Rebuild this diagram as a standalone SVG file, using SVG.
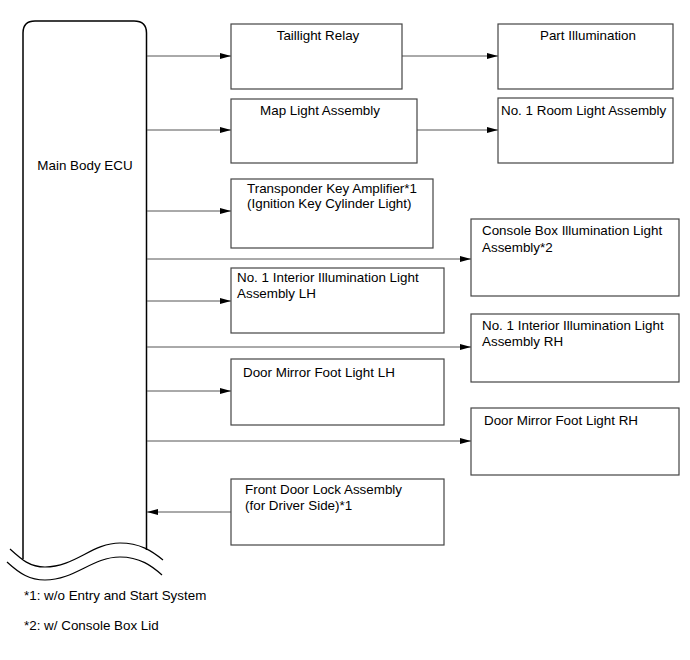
<svg xmlns="http://www.w3.org/2000/svg" width="690" height="660" viewBox="0 0 690 660">
<defs>
<marker id="arr" markerWidth="11" markerHeight="7" refX="11" refY="3.5" orient="auto" markerUnits="userSpaceOnUse">
<path d="M0,0.5 L11,3.5 L0,6.5 z" fill="#000"/>
</marker>
</defs>
<style>
.box{fill:#fff;stroke:#444;stroke-width:1.2}
.ecu{fill:#fff;stroke:#000;stroke-width:1.5}
.ln{stroke:#555;stroke-width:1;fill:none}
text{font-family:"Liberation Sans",Arial,sans-serif;font-size:13.4px;fill:#000}
.wave{fill:none;stroke:#000;stroke-width:1.2}
</style>
<rect width="690" height="660" fill="#fff"/>
<g id="ecu">
<path class="ecu" d="M23,559 L23,33 Q23,21 35,21 L134,21 Q146.5,21 146.5,33 L146.5,550" fill="none"/>
<path class="wave" d="M10,549 C22,560 30,567 45,567 C75,567 92,543 120,543 C140,543 152,551 163,560"/>
<path class="wave" d="M7,562 C20,574 30,580 45,580 C75,580 92,557 120,557 C140,557 152,566 162,575"/>
<text x="85" y="170" text-anchor="middle">Main Body ECU</text>
</g>
<g id="connectors">
<line class="ln" x1="147" y1="56" x2="231" y2="56" marker-end="url(#arr)"/>
<line class="ln" x1="402" y1="56" x2="498" y2="56" marker-end="url(#arr)"/>
<line class="ln" x1="147" y1="130" x2="231" y2="130" marker-end="url(#arr)"/>
<line class="ln" x1="417" y1="130" x2="498" y2="130" marker-end="url(#arr)"/>
<line class="ln" x1="147" y1="211" x2="231" y2="211" marker-end="url(#arr)"/>
<line class="ln" x1="147" y1="259" x2="471" y2="259" marker-end="url(#arr)"/>
<line class="ln" x1="147" y1="301" x2="231" y2="301" marker-end="url(#arr)"/>
<line class="ln" x1="147" y1="347" x2="471" y2="347" marker-end="url(#arr)"/>
<line class="ln" x1="147" y1="391" x2="231" y2="391" marker-end="url(#arr)"/>
<line class="ln" x1="147" y1="441" x2="471" y2="441" marker-end="url(#arr)"/>
<line class="ln" x1="231" y1="512" x2="147" y2="512" marker-end="url(#arr)"/>
</g>
<g id="taillight-relay">
<rect class="box" x="231" y="24" width="171" height="65"/>
<text x="318" y="40" text-anchor="middle">Taillight Relay</text>
</g>
<g id="part-illumination">
<rect class="box" x="498" y="24" width="175" height="65"/>
<text x="588" y="40" text-anchor="middle">Part Illumination</text>
</g>
<g id="map-light">
<rect class="box" x="231" y="99" width="186" height="64"/>
<text x="320" y="115" text-anchor="middle">Map Light Assembly</text>
</g>
<g id="room-light">
<rect class="box" x="498" y="98" width="175" height="65"/>
<text x="501" y="115">No. 1 Room Light Assembly</text>
</g>
<g id="transponder">
<rect class="box" x="231" y="179" width="202" height="69"/>
<text x="247" y="193">Transponder Key Amplifier*1</text>
<text x="247" y="208">(Ignition Key Cylinder Light)</text>
</g>
<g id="console-box">
<rect class="box" x="471" y="219" width="208" height="77"/>
<text x="482" y="235">Console Box Illumination Light</text>
<text x="482" y="252">Assembly*2</text>
</g>
<g id="interior-lh">
<rect class="box" x="231" y="268" width="213" height="65"/>
<text x="237" y="282">No. 1 Interior Illumination Light</text>
<text x="237" y="298">Assembly LH</text>
</g>
<g id="interior-rh">
<rect class="box" x="471" y="314" width="208" height="68"/>
<text x="482" y="330">No. 1 Interior Illumination Light</text>
<text x="482" y="346">Assembly RH</text>
</g>
<g id="mirror-lh">
<rect class="box" x="231" y="359" width="213" height="66"/>
<text x="243" y="377">Door Mirror Foot Light LH</text>
</g>
<g id="mirror-rh">
<rect class="box" x="471" y="408" width="208" height="67"/>
<text x="484" y="425">Door Mirror Foot Light RH</text>
</g>
<g id="door-lock">
<rect class="box" x="231" y="479" width="213" height="66"/>
<text x="245" y="494">Front Door Lock Assembly</text>
<text x="245" y="510">(for Driver Side)*1</text>
</g>
<g id="notes">
<text x="24" y="600" font-size="13">*1: w/o Entry and Start System</text>
<text x="24" y="630" font-size="13">*2: w/ Console Box Lid</text>
</g>
</svg>
